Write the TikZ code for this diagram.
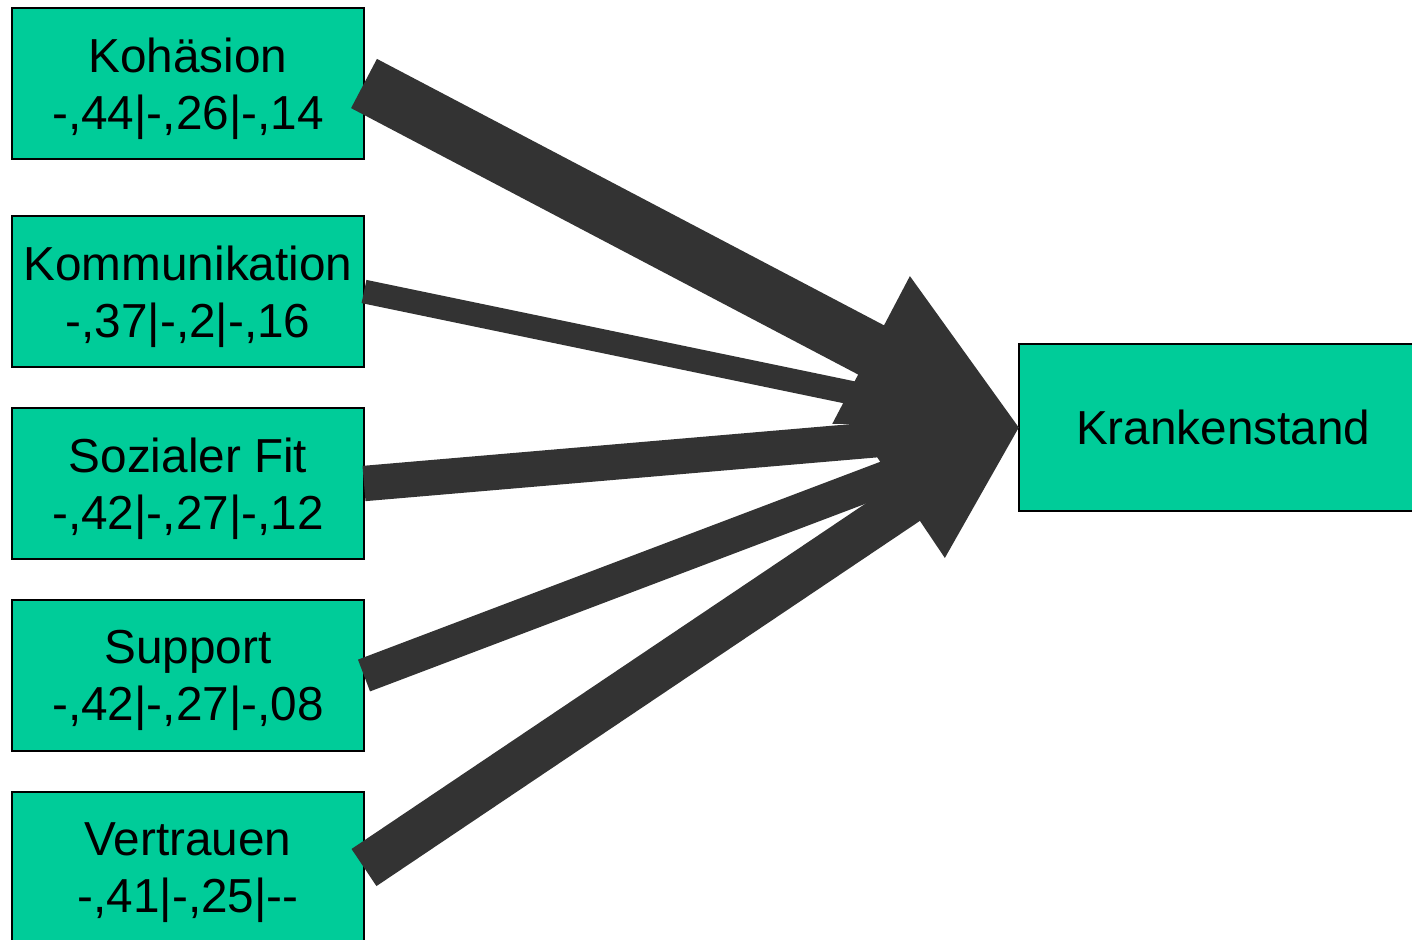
\documentclass[tikz,border=0pt]{standalone}
\usepackage{fontspec}
\setmainfont{Liberation Sans}
\usetikzlibrary{calc}

\definecolor{boxgreen}{HTML}{00CC99}
\definecolor{arrowgrey}{HTML}{333333}

% Broad arrow from #1 to #2 with shaft width #3; head is 3x as long and wide as the shaft
\newcommand\broadarrow[3]{%
  \coordinate (ba-base) at ($(#2)!3*#3!(#1)$);
  \fill[arrowgrey]
    ($(#1)!#3/2!90:(#2)$) --
    ($(ba-base)!#3/2!90:(#2)$) --
    ($(ba-base)!1.5*#3!90:(#2)$) --
    (#2) --
    ($(ba-base)!1.5*#3!-90:(#2)$) --
    ($(ba-base)!#3/2!-90:(#2)$) --
    ($(#1)!#3/2!-90:(#2)$) -- cycle;
}

\tikzset{
  factor/.style={draw=black, line width=1pt, fill=boxgreen, inner sep=0pt, outer sep=0pt,
    minimum width=176pt, minimum height=75.5pt, align=center, text depth=0pt,
    font=\fontsize{23.85}{28.5}\selectfont},
  outcome/.style={factor, minimum width=204.5pt, minimum height=83.5pt}
}

\begin{document}
\begin{tikzpicture}[x=0.5pt, y=-0.5pt]
  \useasboundingbox (0,0) rectangle (1412,939);
  \clip (0,0) rectangle (1412,939);
  \fill[white] (0,0) rectangle (1412,939);

  \node[factor] (koh) at (188,83.5)  {Kohäsion\\-,44|-,26|-,14};
  \node[factor] (kom) at (188,291.5) {Kommunikation\\-,37|-,2|-,16};
  \node[factor] (soz) at (188,483.5) {Sozialer Fit\\-,42|-,27|-,12};
  \node[factor] (sup) at (188,675.5) {Support\\-,42|-,27|-,08};
  \node[factor] (ver) at (188,867.5) {Vertrauen\\-,41|-,25|-{}-};

  \node[outcome] (krank) at (1223.25,427.5) {Krankenstand};

  \broadarrow{koh.east}{krank.west}{27.8pt}
  \broadarrow{kom.east}{krank.west}{11.85pt}
  \broadarrow{soz.east}{krank.west}{17.7pt}
  \broadarrow{sup.east}{krank.west}{17pt}
  \broadarrow{ver.east}{krank.west}{22.35pt}
\end{tikzpicture}
\end{document}
